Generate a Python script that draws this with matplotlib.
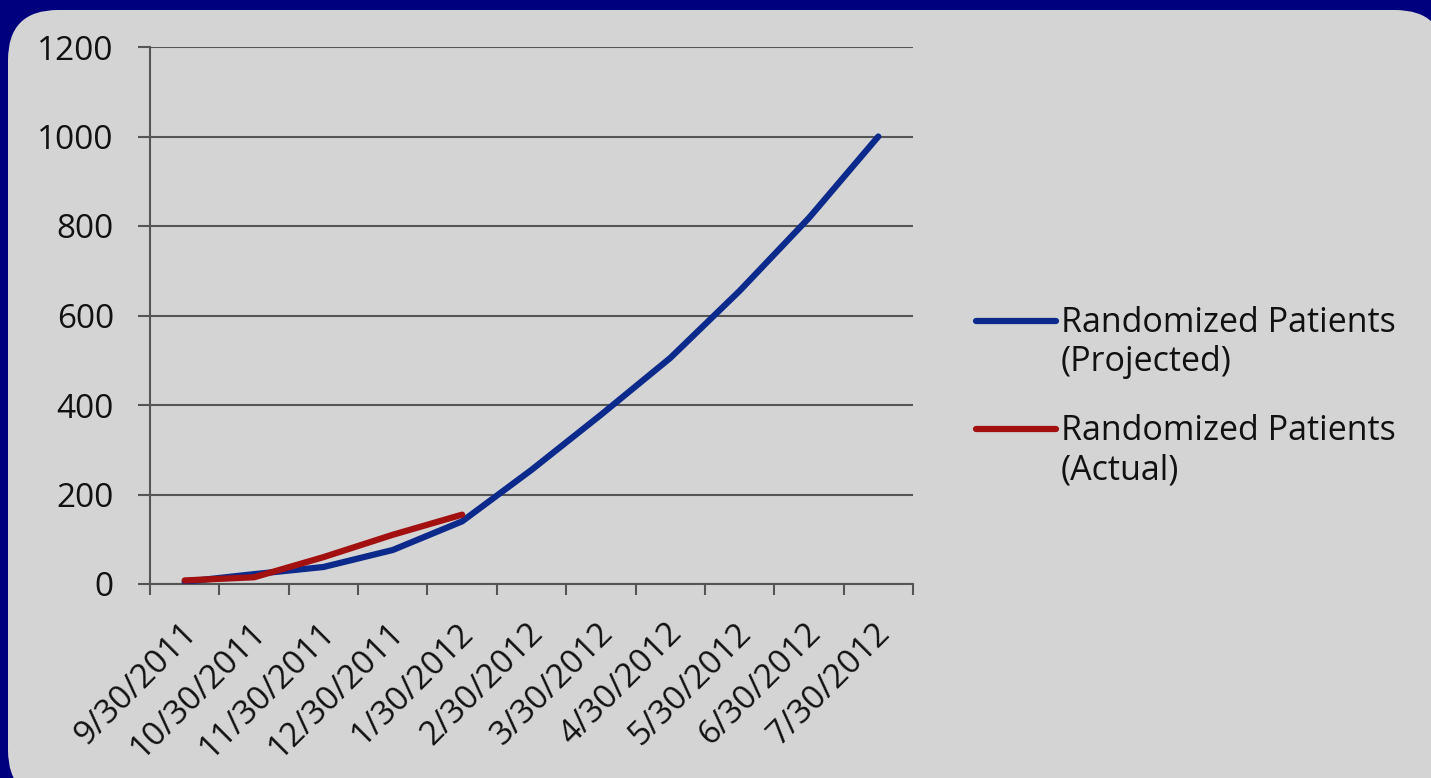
import numpy as np
import matplotlib
matplotlib.use('Agg')
from matplotlib import pyplot as plt
from matplotlib.patches import FancyBboxPatch
from matplotlib.lines import Line2D
import matplotlib.transforms as mtransforms

# Données
dates = ['9/30/2011', '10/30/2011', '11/30/2011', '12/30/2011', '1/30/2012',
         '2/30/2012', '3/30/2012', '4/30/2012', '5/30/2012', '6/30/2012', '7/30/2012']
projected = [5, 22, 38, 76, 140, 255, 378, 505, 655, 818, 1000]
actual = [8, 15, 60, 110, 155]
labels = ['Randomized Patients\n(Projected)', 'Randomized Patients\n(Actual)']
colors = ['#0b2a8c', '#a31010']
yticks = [0, 200, 400, 600, 800, 1000, 1200]

W, H = 1431, 778
FS = 24
plt.rcParams['font.family'] = ['Open Sans', 'DejaVu Sans']
fig = plt.figure(figsize=(W / 100, H / 100), dpi=100)
fig.patch.set_facecolor('#00007f')

# Panneau gris arrondi (fond, en pixels)
bg = fig.add_axes([0, 0, 1, 1], zorder=-1)
bg.set_xlim(0, W)
bg.set_ylim(H, 0)
bg.axis('off')
bg.add_patch(FancyBboxPatch((8, 10), 1445 - 8, 800 - 10,
                            boxstyle='round,pad=0,rounding_size=50',
                            facecolor='#d4d4d4', edgecolor='none'))

ax = fig.add_axes([150 / W, 1 - 584 / H, (913 - 150) / W, (584 - 47) / H])
ax.set_facecolor('none')

x = np.arange(len(dates))
ax.plot(x, projected, color=colors[0], lw=4.5, solid_capstyle='round', zorder=3)
ax.plot(x[:len(actual)], actual, color=colors[1], lw=4.5, solid_capstyle='round', zorder=4)

ax.set_xlim(-0.5, len(dates) - 0.5)
ax.set_ylim(0, 1200)

gc = '#555555'
ax.set_yticks(yticks)
ax.set_yticklabels([str(v) for v in yticks])
ax.yaxis.grid(True, color=gc, lw=1.5)
ax.set_axisbelow(True)
for s in ['top', 'right']:
    ax.spines[s].set_visible(False)
for s in ['left', 'bottom']:
    ax.spines[s].set_color(gc)
    ax.spines[s].set_linewidth(1.5)
ax.tick_params(axis='y', length=9, width=1.5, color=gc, pad=17,
               labelsize=FS, labelcolor='#111111')

# Graduations de l'axe x aux limites des catégories
ax.set_xticks(np.arange(len(dates) + 1) - 0.5)
ax.set_xticklabels([])
ax.tick_params(axis='x', length=8, width=1.5, color=gc)
offset = mtransforms.ScaledTranslation(0.07, 0, fig.dpi_scale_trans)
for xi, d in zip(x, dates):
    ax.text(xi, -0.082, d, transform=ax.get_xaxis_transform() + offset,
            rotation=45, ha='right', va='center', rotation_mode='anchor',
            fontsize=FS, color='#111111')

# Légende
for i, (lab, c) in enumerate(zip(labels, colors)):
    yl = 1 - (321 + 108 * i) / H
    fig.add_artist(Line2D([976 / W, 1056 / W], [yl, yl], color=c, lw=4.5,
                          solid_capstyle='round', transform=fig.transFigure))
    fig.text(1061 / W, 1 - (306 + 108 * i) / H, lab, ha='left', va='top',
             fontsize=24.5, color='#111111', linespacing=1.2)

fig.savefig('out.png', dpi=100, facecolor=fig.get_facecolor())
